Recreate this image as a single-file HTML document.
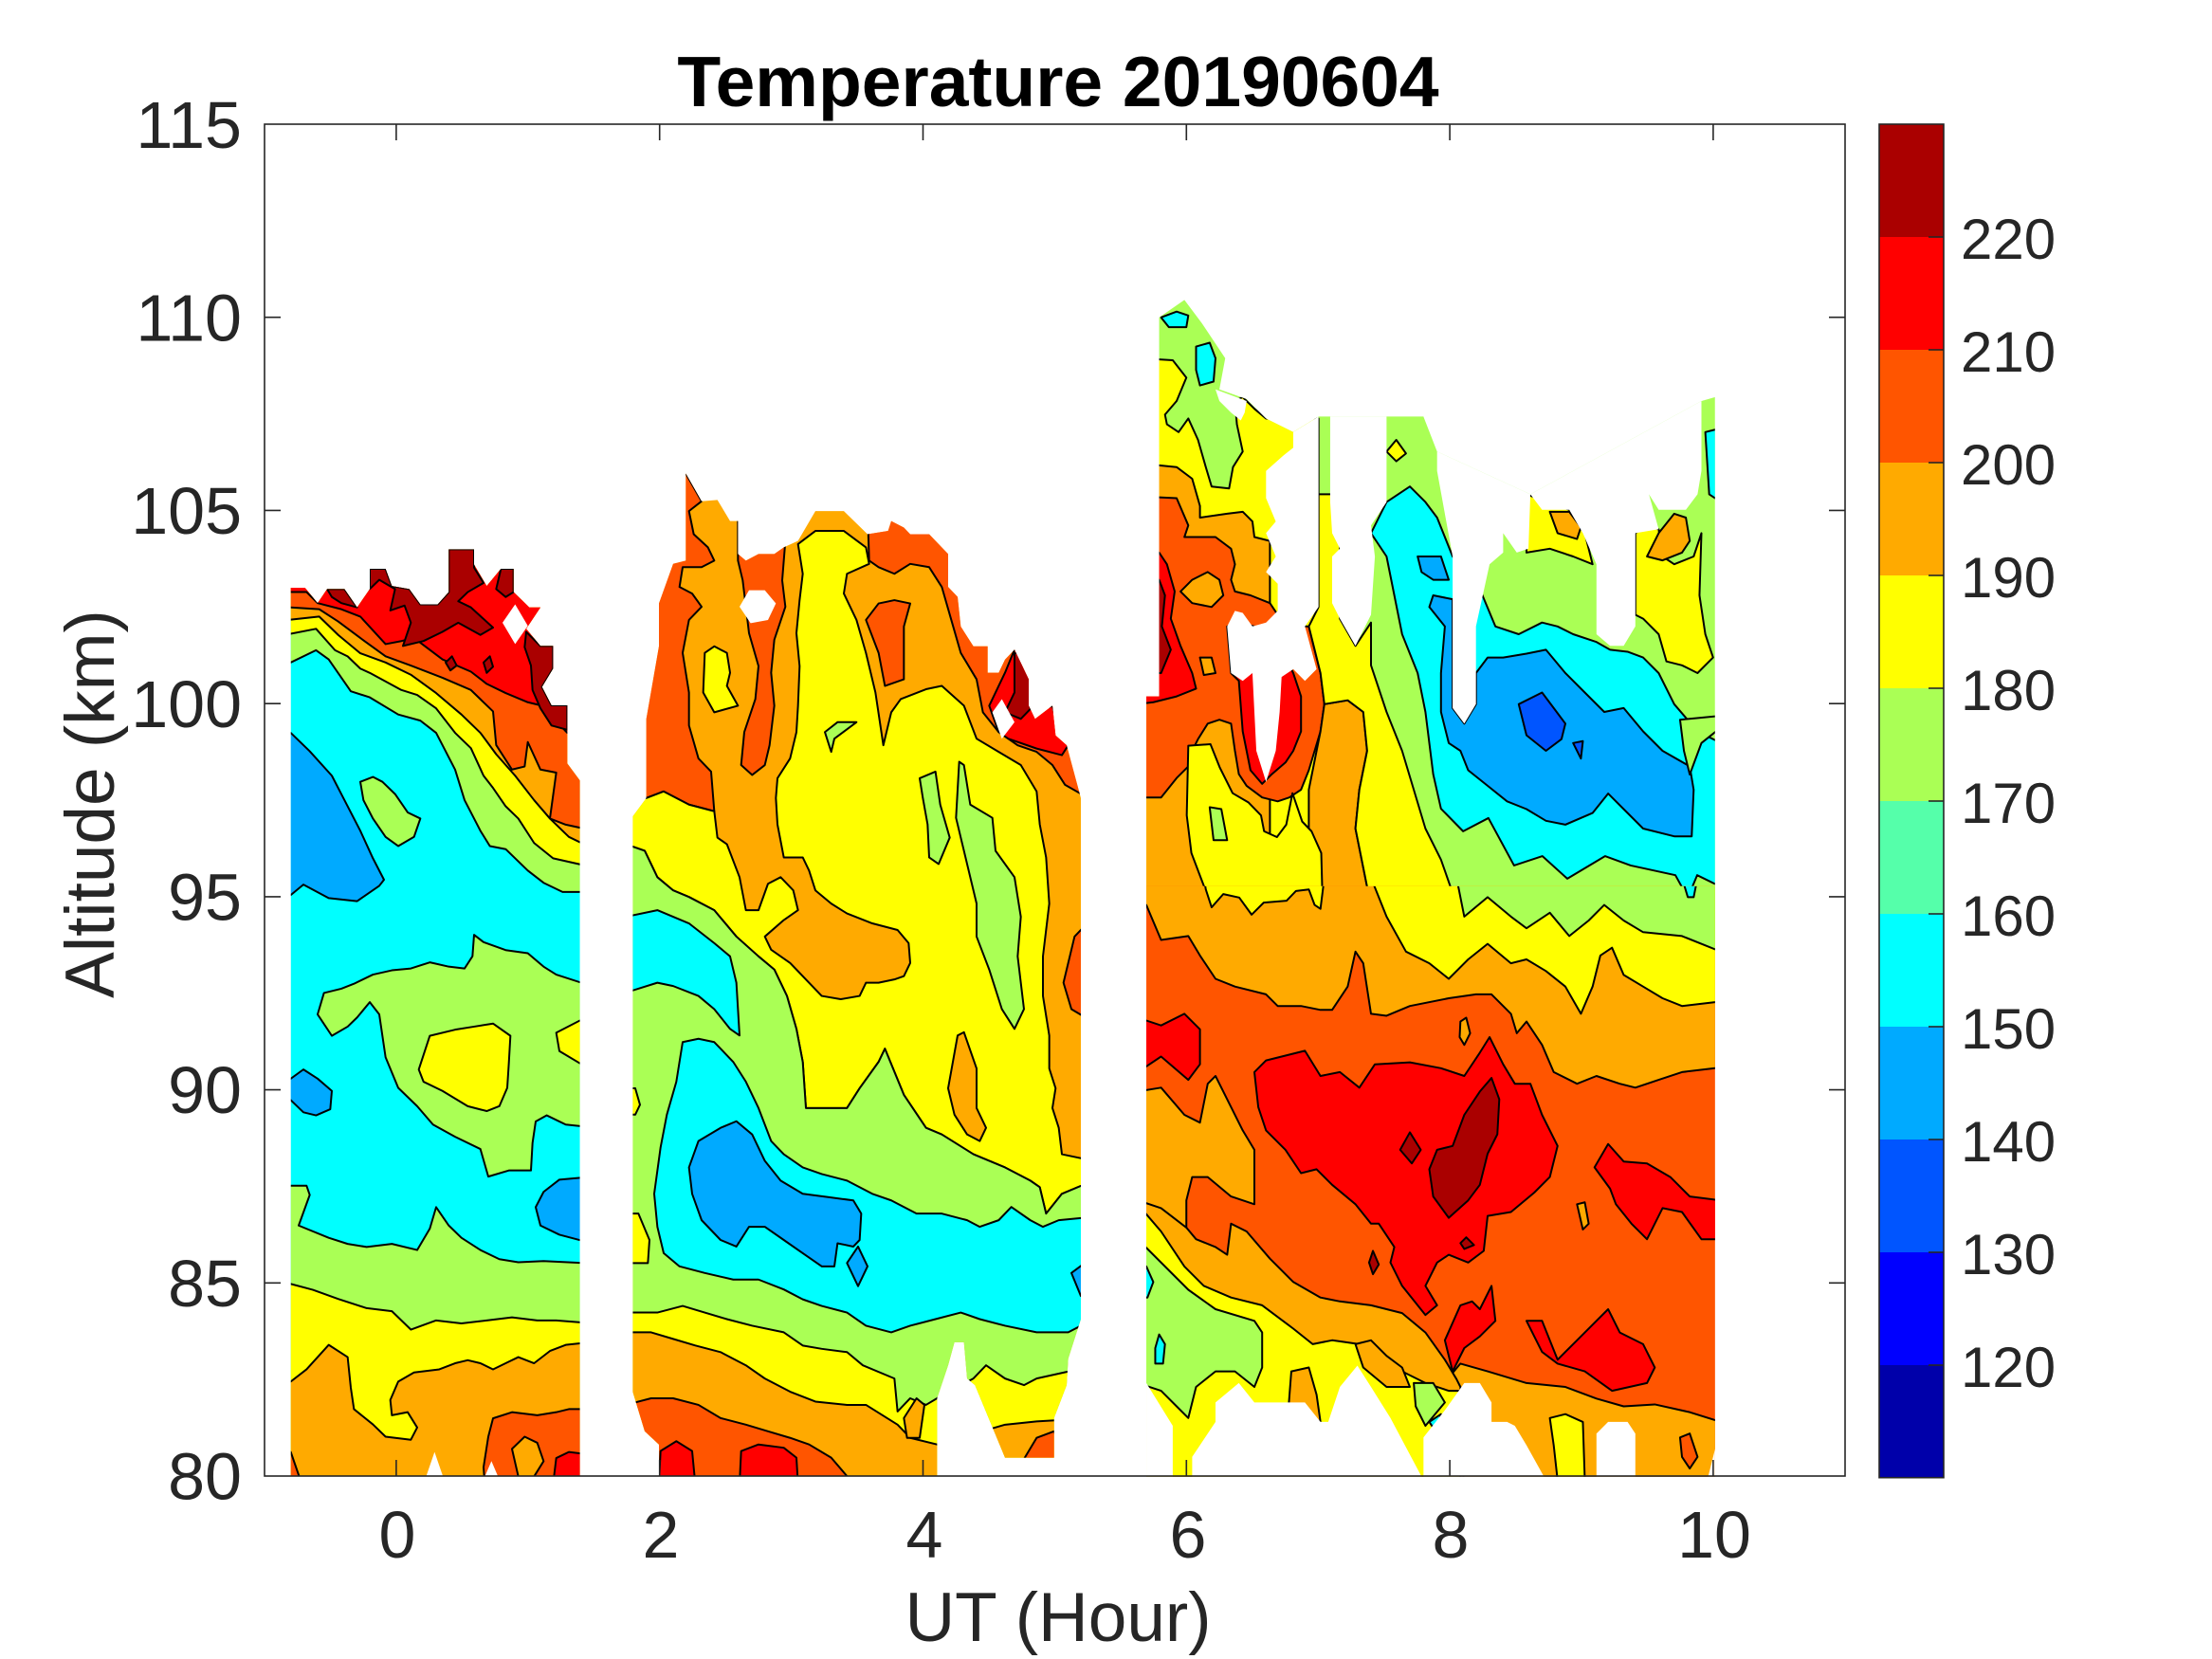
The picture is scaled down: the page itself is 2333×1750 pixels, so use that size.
<!DOCTYPE html>
<html><head><meta charset="utf-8"><style>
html,body{margin:0;padding:0;background:#fff;}
svg{display:block;}
.k{stroke:#000;stroke-width:2;vector-effect:non-scaling-stroke;stroke-linejoin:round}
.dr{fill:#AA0000}.r{fill:#FF0000}.or{fill:#FF5500}.o{fill:#FFAA00}.y{fill:#FFFF00}.g{fill:#AAFF55}.c{fill:#00FFFF}.b{fill:#00AAFF}.bb{fill:#0055FF}.w{fill:#fff}
text{font-family:"Liberation Sans",Arial,Helvetica,sans-serif;fill:#262626}
</style></head><body>
<svg width="2333" height="1750" viewBox="0 0 2333 1750" xmlns="http://www.w3.org/2000/svg">
<rect x="0" y="0" width="2333" height="1750" fill="#fff"/>

<!-- Block 1 -->
<g transform="translate(280,560) scale(0.33333,0.6456)">
<clipPath id="c1"><polygon points="80,1545 80,93 125,93 165,118 195,95 250,95 290,125 330,95 330,62 380,62 400,90 455,95 490,120 545,120 580,100 580,30 660,30 660,55 700,90 745,62 785,62 785,100 835,125 870,125 825,160 870,188 910,188 910,225 875,255 905,285 955,285 955,380 995,408 995,1545"/></clipPath>
<g clip-path="url(#c1)">
<rect x="0" y="0" width="1100" height="1600" class="c"/>
<polygon class="g k" points="40,215 80,215 160,195 200,210 270,262 330,272 420,300 490,310 540,330 600,390 630,440 680,490 710,515 760,520 830,555 880,575 940,590 1040,590 1040,0 40,0"/>
<polygon class="y k" points="40,168 80,168 160,160 220,195 260,205 300,225 330,232 430,260 480,268 540,290 600,330 650,355 690,400 720,420 760,450 800,470 850,510 910,535 1040,550 1040,0 40,0"/>
<polygon class="o k" points="40,145 80,145 170,140 230,170 300,200 380,215 460,235 540,265 620,300 680,330 730,365 790,400 850,440 900,470 960,500 1040,520 1040,0 40,0"/>
<polygon class="or k" points="40,125 80,125 170,128 230,148 300,175 380,205 460,220 560,240 650,260 720,295 730,350 780,390 820,385 830,345 870,390 920,395 900,470 950,480 1040,490 1040,0 40,0"/>
<polygon class="r k" points="40,100 130,100 165,118 240,128 300,140 380,185 430,180 470,175 560,210 650,230 700,250 760,265 830,280 870,285 900,300 955,330 1040,330 1040,0 40,0"/>
<polygon class="dr k" points="195,95 250,95 290,125 240,118 210,108"/>
<polygon class="dr k" points="330,62 380,62 400,90 455,95 490,120 545,120 580,100 580,30 660,30 660,60 690,85 640,100 610,115 650,125 720,158 680,170 610,150 560,165 500,180 435,188 460,150 440,122 395,130 410,95 360,80 330,95"/>
<polygon class="dr k" points="730,95 745,62 785,62 785,100 760,108"/>
<polygon class="dr k" points="825,165 870,188 910,188 910,225 875,255 905,285 955,285 955,325 905,318 870,290 845,260 840,220 820,190"/>
<polygon class="dr k" points="570,215 590,205 605,220 585,228"/>
<polygon class="dr k" points="690,215 710,205 720,222 700,232"/>
<polygon class="b k" points="40,330 80,330 140,360 210,400 250,440 300,490 340,535 375,570 360,580 290,605 200,600 120,578 80,595 40,600"/>
<polygon class="g k" points="300,410 340,402 370,410 410,430 450,460 490,470 470,500 420,515 380,500 340,470 310,440"/>
<polygon class="g k" points="165,790 185,755 240,748 280,740 340,725 400,718 460,715 520,705 580,712 630,715 655,695 660,660 690,672 760,685 830,690 880,712 920,725 1040,745 1040,975 950,970 890,955 855,965 845,1000 840,1045 770,1045 705,1055 680,1010 600,990 530,970 480,940 420,910 380,860 360,790 330,770 290,795 260,810 210,825"/>
<polygon class="y k" points="485,880 520,825 600,815 660,810 720,805 775,825 770,870 765,910 740,940 700,948 640,940 560,915 500,900"/>
<polygon class="y k" points="1040,800 995,800 920,820 930,850 995,870 1040,870"/>
<polygon class="b k" points="40,890 80,895 120,880 165,895 210,915 205,945 160,955 120,950 80,930 40,930"/>
<polygon class="b k" points="1040,1055 930,1060 880,1080 855,1105 870,1135 930,1150 1040,1165"/>
<polygon class="g k" points="40,1070 130,1070 140,1085 105,1135 200,1155 260,1165 320,1170 400,1165 480,1175 520,1140 540,1105 580,1135 620,1155 680,1175 740,1190 800,1195 880,1193 1040,1197 1040,1600 40,1600"/>
<polygon class="y k" points="40,1225 150,1240 230,1255 320,1270 400,1275 460,1305 540,1290 620,1295 700,1290 780,1285 860,1290 920,1290 1040,1295 1040,1600 40,1600"/>
<polygon class="o k" points="40,1390 80,1390 130,1370 200,1330 260,1350 270,1400 280,1435 340,1460 380,1480 460,1485 480,1465 450,1440 400,1445 395,1420 420,1390 470,1375 550,1370 600,1360 640,1355 680,1360 720,1370 760,1360 800,1350 850,1360 900,1340 950,1330 1040,1325 1040,1600 40,1600"/>
<polygon class="or k" points="700,1600 690,1530 705,1480 720,1450 780,1440 860,1445 920,1440 960,1435 1040,1435 1040,1600"/>
<polygon class="o k" points="780,1500 820,1480 860,1490 880,1520 850,1545 800,1545"/>
<polygon class="r k" points="900,1600 920,1515 960,1505 1040,1510 1040,1600"/>
<polygon class="or k" points="40,1500 80,1505 110,1550 40,1550"/>
<polygon class="w" points="505,1550 535,1505 565,1550"/>
<polygon class="w" points="690,1550 715,1520 740,1550"/>
<polygon class="w" points="750,150 790,120 830,155 790,185"/>
</g></g>

<!-- Block 2 -->
<g transform="translate(660,480) scale(0.33333,0.6958)">
<clipPath id="c2"><polygon points="105,1548 105,1500 60,1480 22,1420 22,548 65,520 65,400 105,290 105,225 150,165 190,160 190,28 240,70 290,68 330,100 355,100 355,150 380,160 420,150 470,150 500,140 545,130 600,85 690,85 765,120 830,115 840,100 880,110 900,120 960,120 1020,150 1020,200 1050,215 1060,260 1100,290 1145,290 1145,330 1180,330 1200,310 1230,295 1275,340 1275,380 1295,400 1350,380 1360,425 1395,440 1440,520 1440,1310 1400,1370 1395,1410 1355,1460 1355,1520 1200,1520 1105,1410 1080,1400 1070,1345 1040,1345 1020,1380 985,1430 985,1548"/></clipPath>
<g clip-path="url(#c2)">
<rect x="0" y="0" width="1500" height="1600" class="o"/>
<polygon class="or k" points="0,0 190,0 190,28 240,70 200,85 215,120 260,140 280,160 240,170 180,170 170,200 210,210 240,230 200,250 180,300 200,360 200,410 230,460 270,480 280,540 200,530 120,510 65,520 0,520"/>
<polygon class="or k" points="355,100 510,100 495,190 505,230 470,280 460,330 470,380 455,440 440,470 400,485 365,470 375,420 410,370 420,320 390,270 380,230 370,190 355,160"/>
<polygon class="or k" points="760,0 1500,0 1500,530 1390,500 1350,470 1300,450 1240,440 1180,420 1130,390 1110,340 1060,300 1030,250 1000,200 960,170 900,165 850,180 800,170 770,160"/>
<polygon class="or k" points="760,250 800,225 850,220 900,225 880,260 880,340 820,350 800,300"/>
<polygon class="r k" points="1150,380 1200,330 1230,295 1300,300 1300,390 1350,380 1370,420 1400,440 1380,455 1300,445 1210,430 1180,420"/>
<polygon class="dr k" points="1230,300 1290,300 1280,385 1250,400 1200,390 1230,360"/>
<polygon class="y k" points="545,135 600,115 690,115 760,140 770,165 700,180 690,210 730,250 760,300 790,360 815,440 840,390 870,370 950,355 1000,350 1070,380 1110,430 1180,450 1250,470 1300,510 1310,560 1330,610 1340,680 1320,760 1320,820 1340,880 1340,930 1360,960 1350,990 1370,1020 1380,1060 1480,1070 1480,1100 1380,1120 1330,1150 1310,1110 1280,1100 1200,1080 1100,1060 1000,1030 950,1020 880,970 820,900 800,920 740,960 700,990 570,990 560,920 540,870 510,820 470,780 420,760 350,730 280,690 200,670 150,660 100,640 60,600 0,590 0,520 65,520 120,510 200,530 280,540 290,580 320,590 360,640 380,690 420,690 450,650 490,640 530,660 545,690 500,705 440,730 460,750 520,770 580,800 620,820 680,825 740,820 760,800 800,800 850,795 880,790 900,770 895,740 860,720 780,710 700,695 650,680 600,660 580,630 560,610 500,610 480,560 475,520 480,490 520,460 540,420 545,380 550,320 540,270 550,220 560,180"/>
<polygon class="y k" points="250,300 280,290 320,300 330,330 320,350 355,380 280,390 245,360"/>
<polygon class="g k" points="930,490 980,480 995,530 1025,580 990,620 960,610 955,560 940,520"/>
<polygon class="g k" points="1055,465 1070,470 1090,530 1160,550 1170,600 1230,640 1250,700 1240,760 1260,840 1230,870 1190,840 1150,780 1110,730 1110,680 1080,620 1045,550"/>
<polygon class="g k" points="630,420 670,405 730,405 660,430 650,450"/>
<polygon class="o k" points="1020,960 1050,880 1070,875 1110,930 1110,990 1140,1020 1120,1040 1080,1030 1040,1000"/>
<polygon class="or k" points="1480,700 1420,730 1385,800 1410,840 1480,860"/>
<polygon class="g k" points="0,590 60,600 100,640 150,660 200,670 280,690 350,730 420,760 470,780 510,820 540,870 560,920 570,990 700,990 740,960 800,920 820,900 880,970 950,1020 1000,1030 1100,1060 1200,1080 1280,1100 1310,1110 1330,1150 1380,1120 1480,1100 1480,1700 0,1700"/>
<polygon class="y k" points="0,960 30,960 45,985 30,1000 0,1000"/>
<polygon class="y k" points="0,1150 40,1150 75,1190 70,1225 0,1225"/>
<polygon class="c k" points="0,700 100,690 200,710 280,740 330,760 350,800 360,880 330,870 280,840 230,820 150,805 100,800 0,815"/>
<polygon class="c k" points="100,1170 90,1120 110,1050 130,1000 160,950 180,890 230,885 280,890 340,920 380,950 420,990 460,1040 500,1060 560,1080 620,1090 700,1100 780,1120 840,1130 920,1150 1000,1150 1080,1160 1120,1170 1180,1160 1220,1140 1280,1160 1320,1170 1370,1160 1480,1155 1480,1310 1400,1330 1300,1330 1200,1320 1120,1310 1060,1300 980,1310 900,1320 840,1330 760,1320 700,1300 620,1290 560,1280 500,1265 420,1250 340,1250 250,1240 170,1230 120,1210"/>
<polygon class="b k" points="200,1080 230,1040 300,1020 350,1010 400,1030 440,1070 490,1100 560,1120 640,1125 720,1130 745,1150 740,1190 720,1200 670,1195 660,1230 620,1230 560,1210 500,1190 440,1170 390,1170 350,1200 300,1190 240,1160 210,1120"/>
<polygon class="b k" points="700,1225 735,1200 765,1230 735,1260"/>
<polygon class="b k" points="1480,1215 1410,1240 1440,1275 1480,1280"/>
<polygon class="y k" points="0,1300 100,1300 180,1290 250,1300 320,1310 400,1320 500,1330 560,1350 620,1355 700,1360 750,1380 850,1400 860,1450 900,1430 950,1440 985,1430 1100,1400 1140,1380 1200,1400 1260,1410 1300,1400 1395,1390 1480,1380 1480,1700 0,1700"/>
<polygon class="o k" points="0,1330 80,1330 150,1340 220,1350 300,1360 380,1380 440,1400 520,1420 600,1435 700,1440 760,1440 860,1470 900,1490 985,1500 1200,1470 1300,1465 1480,1460 1480,1700 0,1700"/>
<polygon class="or k" points="0,1440 80,1430 150,1430 230,1440 300,1460 380,1470 450,1480 520,1490 580,1500 650,1520 700,1548 700,1700 0,1700"/>
<polygon class="or k" points="1250,1530 1300,1490 1355,1480 1400,1530"/>
<polygon class="r k" points="105,1560 110,1510 160,1495 210,1510 220,1560"/>
<polygon class="r k" points="360,1560 365,1510 420,1500 500,1505 540,1520 545,1560"/>
<polygon class="o k" points="880,1460 920,1430 945,1440 930,1490 890,1490"/>
<polygon class="w" points="360,230 390,205 440,205 475,225 450,250 395,255"/>
<polygon class="w" points="1160,390 1190,370 1230,405 1190,430"/>
</g></g>

<!-- Block 3 upper -->
<g transform="translate(1200,300) scale(0.41)">
<clipPath id="c3"><polygon points="22,1562 22,1060 55,1060 55,85 120,40 165,100 225,190 210,270 280,295 330,345 400,380 465,340 735,340 770,430 1010,540 1450,300 1485,290 1485,1562"/></clipPath>
<g clip-path="url(#c3)">
<rect x="0" y="0" width="1520" height="1600" class="g"/>
<polygon class="c k" points="60,85 100,70 130,80 125,110 80,110"/>
<polygon class="c k" points="150,160 185,150 200,190 195,250 160,260 150,220"/>
<polygon class="y k" points="0,190 90,195 125,240 100,300 70,335 75,360 105,380 130,345 155,400 175,470 190,520 235,525 245,470 270,430 255,360 250,300 270,290 300,320 330,345 465,345 465,1700 0,1700"/>
<polygon class="o k" points="0,460 100,470 140,500 160,570 160,600 230,590 270,585 295,610 300,650 340,660 340,1700 0,1700"/>
<polygon class="or k" points="0,545 100,550 130,620 120,650 200,650 240,680 250,720 240,760 250,790 290,800 340,820 380,880 440,880 470,1000 480,1080 470,1150 440,1250 420,1300 390,1320 360,1330 320,1320 280,1290 260,1260 250,1200 240,1130 210,1120 180,1130 155,1170 140,1200 130,1240 100,1270 60,1320 0,1320"/>
<polygon class="r k" points="0,690 55,690 75,720 95,790 85,860 110,930 140,1000 150,1040 100,1060 40,1075 0,1080"/>
<polygon class="dr k" points="55,760 70,800 62,880 85,940 60,1000 45,1000 45,760"/>
<polygon class="r k" points="230,880 240,1000 260,1020 270,1150 290,1250 320,1285 345,1260 380,1230 400,1200 420,1150 420,1060 400,1000 380,960 350,900 300,880 260,870"/>
<polygon class="o k" points="110,790 140,760 180,740 210,760 220,800 190,830 140,820"/>
<polygon class="o k" points="160,960 190,960 200,1000 170,1005"/>
<polygon class="o k" points="420,1600 440,1400 440,1300 470,1150 480,1080 540,1070 580,1100 590,1200 570,1300 560,1400 580,1500 600,1600"/>
<polygon class="y k" points="130,1187 187,1183 211,1243 244,1309 285,1333 317,1366 325,1407 358,1422 382,1390 398,1309 423,1382 447,1407 472,1463 476,1610 191,1602 163,1529 138,1463 126,1366"/>
<polygon class="g k" points="185,1345 215,1350 230,1430 195,1430"/>
<polygon class="y k" points="465,540 520,540 520,860 560,930 600,870 600,980 640,1100 680,1200 710,1300 740,1400 780,1480 822,1600 600,1600 580,1500 560,1400 570,1300 590,1200 580,1100 540,1070 480,1080 470,1000 440,880 465,830"/>
<polygon class="c k" points="600,640 640,560 700,520 740,560 770,600 810,700 870,760 920,880 980,900 1040,870 1080,880 1120,900 1180,920 1215,940 1260,945 1300,960 1340,1000 1380,1080 1440,1150 1500,1180 1500,1550 1439,1520 1415,1578 1383,1520 1268,1495 1202,1471 1105,1529 1041,1471 968,1495 902,1373 837,1407 780,1349 760,1260 740,1100 720,1000 680,900 660,800 640,700"/>
<polygon class="b k" points="780,1000 790,880 750,830 760,800 810,810 810,1090 840,1130 870,1080 870,1000 900,960 940,960 1000,950 1050,940 1100,1000 1150,1050 1200,1100 1250,1090 1300,1150 1350,1200 1420,1240 1430,1300 1425,1420 1380,1420 1300,1400 1250,1350 1210,1310 1170,1360 1100,1390 1050,1380 1000,1350 950,1330 900,1290 850,1250 830,1200 800,1180 780,1100"/>
<polygon class="b k" points="720,700 780,700 800,760 760,760 730,740"/>
<polygon class="g k" points="1395,1120 1500,1110 1500,1140 1450,1180 1420,1261 1405,1200"/>
<polygon class="bb k" points="980,1080 1040,1050 1070,1090 1100,1130 1090,1170 1050,1200 1000,1160"/>
<polygon class="bb k" points="1120,1180 1145,1175 1140,1220"/>
<polygon class="y k" points="1280,640 1310,620 1340,630 1350,700 1380,720 1430,700 1450,640 1445,800 1460,900 1480,960 1440,1000 1400,980 1360,970 1340,900 1300,860 1280,850"/>
<polygon class="y k" points="1000,540 1110,580 1150,640 1170,720 1120,700 1060,680 1000,690"/>
<polygon class="o k" points="1060,585 1110,585 1140,625 1130,655 1080,640"/>
<polygon class="o k" points="1310,700 1340,640 1380,590 1410,600 1420,660 1400,690 1350,710"/>
<polygon class="y k" points="640,430 665,400 690,435 665,455"/>
<polygon class="c k" points="1460,380 1500,370 1500,560 1470,540"/>
<polygon class="w" points="200,270 240,285 280,300 275,330 265,350 240,330 210,300"/>
<polygon class="w" points="330,500 330,480 375,440 400,420 400,380 465,340 465,830 430,880 460,990 430,1020 400,990 370,1010 365,1100 355,1200 330,1280 305,1200 295,1000 270,1020 240,1000 230,880 250,840 270,845 295,880 330,870 360,840 360,770 330,740 355,700 330,640 355,610 330,550"/>
<polygon class="w" points="495,300 640,300 640,560 600,620 610,700 600,850 560,930 520,860 500,820 500,700 520,680 500,640 495,560"/>
<polygon class="w" points="735,0 735,340 770,430 770,480 810,700 810,1090 840,1130 870,1080 870,880 905,720 940,690 940,640 975,690 1005,680 1010,540 1040,580 1110,580 1145,640 1180,720 1180,900 1215,930 1250,930 1280,880 1280,640 1340,630 1315,540 1340,580 1410,580 1440,540 1450,480 1450,300 1485,290 1485,0"/>
</g></g>

<!-- Block 3 lower -->
<g transform="translate(1200,930) scale(0.41)">
<clipPath id="c4"><polygon points="22,12 1485,12 1485,1531 22,1531"/></clipPath>
<g clip-path="url(#c4)">
<rect x="0" y="0" width="1520" height="1600" class="or"/>
<polygon class="o k" points="0,-10 1500,-10 1500,480 1485,480 1400,490 1340,510 1280,530 1240,520 1180,500 1130,520 1070,490 1040,420 1000,360 975,390 960,340 910,290 870,290 800,300 700,320 640,345 600,340 580,210 560,180 540,270 500,330 470,330 420,320 360,320 330,290 250,270 200,250 160,190 130,140 60,150 22,60 0,60"/>
<polygon class="y k" points="600,-10 1500,-10 1500,310 1485,310 1400,320 1350,300 1300,270 1250,240 1220,170 1190,190 1170,270 1140,340 1100,270 1050,230 1000,200 960,210 900,160 850,200 800,250 750,210 690,180 640,90"/>
<polygon class="y k" points="170,-10 175,20 190,66 220,32 261,41 293,85 324,54 383,49 407,24 440,20 455,60 470,70 480,-10"/>
<polygon class="g k" points="820,-10 840,90 900,40 960,90 1000,120 1060,80 1110,140 1160,100 1200,60 1250,100 1300,130 1400,140 1500,180 1500,-10"/>
<polygon class="c k" points="1400,-10 1440,-10 1430,40 1415,40"/>
<polygon class="o k" points="830,360 845,350 855,390 840,420 828,400"/>
<polygon class="o k" points="0,540 60,530 120,600 160,620 180,520 200,500 240,580 270,640 300,690 300,830 240,810 180,760 140,760 125,820 125,890 60,850 0,830"/>
<polygon class="r k" points="0,350 60,370 120,340 160,380 160,470 130,510 60,450 0,490"/>
<polygon class="r k" points="300,490 330,460 430,435 470,500 520,490 570,530 610,470 700,465 780,480 840,500 880,440 905,400 940,470 970,520 1010,520 1040,600 1080,680 1060,760 1020,800 960,850 900,860 890,950 850,980 800,960 770,980 740,1040 770,1090 740,1115 680,1040 650,980 660,940 620,880 600,880 560,830 500,780 460,740 420,750 380,690 330,640 310,580"/>
<polygon class="dr k" points="750,740 770,690 810,680 840,600 880,540 910,505 930,560 925,650 900,700 880,780 850,820 800,865 760,810"/>
<polygon class="dr k" points="675,690 700,645 728,690 705,725"/>
<polygon class="dr k" points="830,930 845,915 865,935 840,945"/>
<polygon class="dr k" points="595,980 605,950 620,985 605,1010"/>
<polygon class="r k" points="1175,735 1210,675 1250,720 1310,725 1370,760 1420,810 1500,820 1500,920 1450,920 1400,850 1350,840 1310,920 1270,880 1230,830 1215,790"/>
<polygon class="o k" points="1130,830 1150,825 1160,880 1145,895"/>
<polygon class="r k" points="790,1180 830,1090 860,1080 880,1100 910,1040 920,1130 880,1170 840,1200 810,1260"/>
<polygon class="r k" points="1000,1130 1040,1130 1080,1230 1130,1180 1210,1100 1240,1160 1300,1190 1330,1250 1310,1290 1220,1310 1150,1260 1080,1240 1040,1210"/>
<polygon class="o k" points="780,1300 830,1240 900,1260 1000,1290 1100,1300 1180,1330 1250,1350 1330,1345 1420,1365 1500,1390 1500,1600 780,1600"/>
<polygon class="y k" points="1060,1380 1100,1370 1145,1390 1150,1540 1080,1540 1070,1450"/>
<polygon class="or k" points="1395,1430 1420,1420 1440,1480 1420,1510 1400,1480"/>
<polygon class="o k" points="0,820 60,840 125,890 150,920 200,940 230,960 240,880 280,900 340,970 400,1030 470,1070 520,1080 600,1090 680,1110 740,1160 790,1230 820,1280 830,1300 840,1600 0,1600"/>
<polygon class="y k" points="0,830 60,900 120,990 170,1040 240,1070 320,1090 400,1150 450,1190 500,1180 570,1190 620,1220 680,1260 740,1290 800,1310 830,1310 830,1600 0,1600"/>
<polygon class="g k" points="0,920 80,1000 130,1050 200,1100 300,1130 320,1160 320,1250 300,1300 250,1260 200,1260 150,1300 130,1380 100,1350 60,1310 0,1290"/>
<polygon class="c k" points="0,990 22,990 40,1030 25,1070 0,1070"/>
<polygon class="c k" points="45,1200 55,1165 70,1190 65,1240 45,1240"/>
<polygon class="o k" points="560,1190 600,1180 640,1220 680,1250 700,1300 640,1300 580,1250"/>
<polygon class="o k" points="385,1390 395,1260 440,1250 460,1320 470,1390"/>
<polygon class="g k" points="710,1290 760,1290 790,1340 740,1400 715,1350"/>
<polygon class="c k" points="750,1390 780,1370 770,1420"/>
<polygon class="w" points="0,1290 22,1290 90,1400 90,1600 0,1600"/>
<polygon class="w" points="140,1600 140,1480 200,1390 200,1340 260,1290 300,1340 430,1340 470,1390 490,1390 520,1300 565,1245 600,1300 650,1380 735,1540 735,1600"/>
<polygon class="w" points="735,1600 735,1430 790,1360 840,1290 880,1290 910,1340 910,1390 950,1390 970,1400 1000,1450 1050,1540 1050,1600"/>
<polygon class="w" points="1180,1600 1180,1420 1210,1390 1260,1390 1280,1420 1280,1600"/>
<polygon class="w" points="1485,1460 1500,1460 1500,1600 1450,1600"/>
</g></g>

<!-- Axes box -->
<rect x="279" y="131" width="1667" height="1426" fill="none" stroke="#262626" stroke-width="1.6"/>
<g stroke="#262626" stroke-width="1.6">
<line x1="417.9" y1="1557" x2="417.9" y2="1540"/><line x1="417.9" y1="131" x2="417.9" y2="148"/>
<line x1="695.7" y1="1557" x2="695.7" y2="1540"/><line x1="695.7" y1="131" x2="695.7" y2="148"/>
<line x1="973.5" y1="1557" x2="973.5" y2="1540"/><line x1="973.5" y1="131" x2="973.5" y2="148"/>
<line x1="1251.3" y1="1557" x2="1251.3" y2="1540"/><line x1="1251.3" y1="131" x2="1251.3" y2="148"/>
<line x1="1529.1" y1="1557" x2="1529.1" y2="1540"/><line x1="1529.1" y1="131" x2="1529.1" y2="148"/>
<line x1="1806.9" y1="1557" x2="1806.9" y2="1540"/><line x1="1806.9" y1="131" x2="1806.9" y2="148"/>
<line x1="279" y1="334.7" x2="296" y2="334.7"/><line x1="1946" y1="334.7" x2="1929" y2="334.7"/>
<line x1="279" y1="538.4" x2="296" y2="538.4"/><line x1="1946" y1="538.4" x2="1929" y2="538.4"/>
<line x1="279" y1="742.2" x2="296" y2="742.2"/><line x1="1946" y1="742.2" x2="1929" y2="742.2"/>
<line x1="279" y1="945.9" x2="296" y2="945.9"/><line x1="1946" y1="945.9" x2="1929" y2="945.9"/>
<line x1="279" y1="1149.6" x2="296" y2="1149.6"/><line x1="1946" y1="1149.6" x2="1929" y2="1149.6"/>
<line x1="279" y1="1353.3" x2="296" y2="1353.3"/><line x1="1946" y1="1353.3" x2="1929" y2="1353.3"/>
</g>

<!-- Y tick labels -->
<g font-size="70" text-anchor="end">
<text x="255" y="156">115</text>
<text x="255" y="359.5">110</text>
<text x="255" y="563">105</text>
<text x="255" y="767">100</text>
<text x="255" y="970.5">95</text>
<text x="255" y="1174">90</text>
<text x="255" y="1378">85</text>
<text x="255" y="1581.5">80</text>
</g>
<!-- X tick labels -->
<g font-size="70" text-anchor="middle">
<text x="419" y="1643">0</text>
<text x="697" y="1643">2</text>
<text x="975" y="1643">4</text>
<text x="1253" y="1643">6</text>
<text x="1530" y="1643">8</text>
<text x="1808" y="1643">10</text>
</g>

<text x="1116" y="1731" font-size="73" text-anchor="middle">UT (Hour)</text>
<text transform="translate(120,848) rotate(-90)" x="0" y="0" font-size="73" text-anchor="middle">Altitude (km)</text>
<text x="1116" y="112" font-size="75" font-weight="bold" text-anchor="middle" style="fill:#000">Temperature 20190604</text>

<!-- Colorbar -->
<g>
<rect x="1982" y="131" width="68" height="119.2" fill="#AA0000"/>
<rect x="1982" y="250" width="68" height="119.2" fill="#FF0000"/>
<rect x="1982" y="369" width="68" height="119.2" fill="#FF5500"/>
<rect x="1982" y="488" width="68" height="119.2" fill="#FFAA00"/>
<rect x="1982" y="607" width="68" height="119.2" fill="#FFFF00"/>
<rect x="1982" y="726" width="68" height="119.2" fill="#AAFF55"/>
<rect x="1982" y="845" width="68" height="119.2" fill="#55FFAA"/>
<rect x="1982" y="964" width="68" height="119.2" fill="#00FFFF"/>
<rect x="1982" y="1083" width="68" height="119.2" fill="#00AAFF"/>
<rect x="1982" y="1202" width="68" height="119.2" fill="#0055FF"/>
<rect x="1982" y="1321" width="68" height="119.2" fill="#0000FF"/>
<rect x="1982" y="1440" width="68" height="118.7" fill="#0000AA"/>
<rect x="1982" y="131" width="68" height="1427.7" fill="none" stroke="#262626" stroke-width="1.6"/>
<g stroke="#262626" stroke-width="1.6">
<line x1="2034" y1="250" x2="2050" y2="250"/>
<line x1="2034" y1="369" x2="2050" y2="369"/>
<line x1="2034" y1="488" x2="2050" y2="488"/>
<line x1="2034" y1="607" x2="2050" y2="607"/>
<line x1="2034" y1="726" x2="2050" y2="726"/>
<line x1="2034" y1="845" x2="2050" y2="845"/>
<line x1="2034" y1="964" x2="2050" y2="964"/>
<line x1="2034" y1="1083" x2="2050" y2="1083"/>
<line x1="2034" y1="1202" x2="2050" y2="1202"/>
<line x1="2034" y1="1321" x2="2050" y2="1321"/>
<line x1="2034" y1="1440" x2="2050" y2="1440"/>
</g>
<g font-size="60">
<text x="2068" y="273">220</text>
<text x="2068" y="392">210</text>
<text x="2068" y="511">200</text>
<text x="2068" y="630">190</text>
<text x="2068" y="749">180</text>
<text x="2068" y="868">170</text>
<text x="2068" y="987">160</text>
<text x="2068" y="1106">150</text>
<text x="2068" y="1225">140</text>
<text x="2068" y="1344">130</text>
<text x="2068" y="1463">120</text>
</g>
</g>
</svg>
</body></html>
